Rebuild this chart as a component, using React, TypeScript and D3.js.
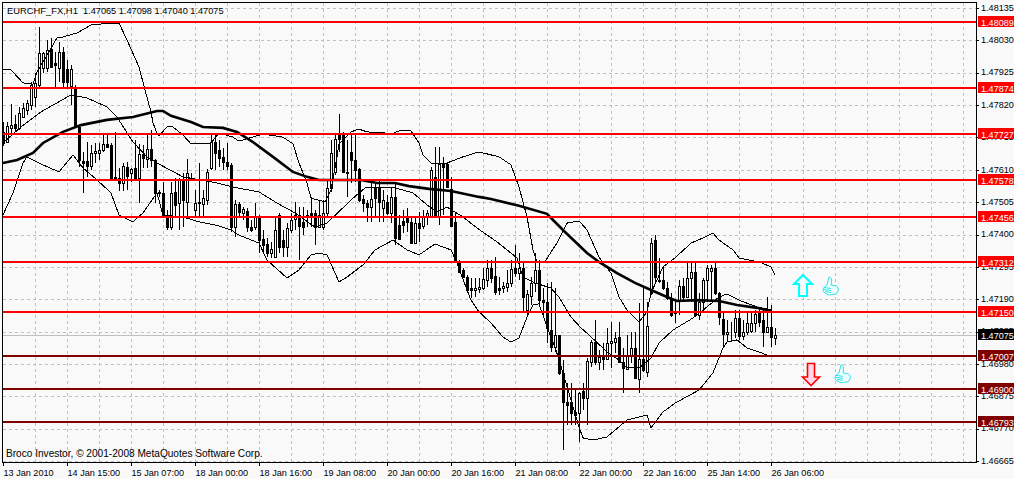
import { useEffect, useRef } from 'react'
import * as d3 from 'd3'

const WIDTH = 1014
const HEIGHT = 479

// hourly candles, prices in 1e-5 units
const highs = [
  147766,147766,147822,147788,147815,147826,147836,147896,147925,148074,
  147993,148031,148037,147993,148026,148010,147966,147950,147885,147755,
  147669,147701,147690,147696,147696,147723,147728,147696,147734,147615,
  147631,147634,147615,147707,147694,147690,147728,147739,147644,147544,
  147571,147480,147571,147582,147582,147599,147644,147601,147544,147631,
  147544,147613,147723,147728,147707,147680,147696,147631,147512,147507,
  147490,147485,147447,147501,147463,147415,147388,147377,147458,147469,
  147415,147436,147469,147507,147490,147490,147480,147523,147480,147512,
  147512,147577,147707,147728,147791,147734,147707,147723,147728,147615,
  147528,147512,147577,147571,147577,147544,147528,147555,147571,147463,
  147480,147485,147453,147458,147474,147480,147480,147620,147685,147685,
  147653,147631,147588,147469,147317,147290,147269,147258,147258,147258,
  147290,147317,147317,147328,147263,147247,147285,147317,147366,147339,
  147306,147220,147263,147339,147317,147225,147242,147247,147225,147074,
  146993,146917,146917,146895,146890,146917,146998,147058,147123,147025,
  147047,147096,147117,147085,147117,147031,147074,147085,147085,147177,
  147225,147182,147388,147398,147323,147296,147247,147209,147188,147252,
  147258,147306,147312,147312,147209,147258,147301,147301,147312,147215,
  147150,147123,147117,147155,147155,147123,147144,147144,147155,147160,
  147155,147198,147171,147098,
]
const lows = [
  147688,147696,147728,147737,147739,147777,147788,147804,147815,147878,
  147923,147928,147939,147880,147896,147878,147878,147820,147745,147620,
  147534,147588,147609,147631,147642,147669,147680,147577,147582,147542,
  147542,147544,147571,147577,147501,147615,147615,147620,147503,147523,
  147458,147415,147415,147458,147415,147425,147458,147577,147458,147458,
  147458,147496,147609,147609,147620,147609,147609,147409,147393,147452,
  147447,147409,147409,147415,147339,147339,147328,147323,147323,147339,
  147328,147328,147404,147415,147317,147398,147425,147425,147366,147420,
  147415,147452,147539,147593,147669,147599,147523,147566,147571,147507,
  147474,147442,147442,147458,147442,147442,147463,147436,147366,147382,
  147404,147409,147371,147371,147377,147417,147431,147452,147458,147431,
  147463,147550,147425,147317,147279,147258,147215,147193,147198,147209,
  147220,147231,147242,147204,147204,147209,147215,147231,147263,147252,
  147144,147139,147171,147215,147171,147139,147047,147020,147020,146944,
  146701,146782,146782,146782,146728,146831,146782,146971,146977,146960,
  146960,146993,146966,147014,146987,146885,146960,146982,146933,146885,
  146955,146939,147204,147242,147242,147220,147188,147133,147112,147139,
  147188,147193,147182,147133,147123,147150,147182,147182,147204,147106,
  147036,147052,147052,147063,147058,147058,147074,147079,147085,147101,
  147036,147079,147034,147040,
]
const opens = [
  147734,147701,147745,147758,147745,147782,147804,147820,147847,147885,
  147939,147939,148001,147958,147939,147993,147936,147882,147878,147750,
  147639,147639,147623,147663,147666,147674,147693,147690,147588,147582,
  147566,147620,147598,147615,147582,147661,147645,147676,147642,147539,
  147536,147458,147423,147537,147501,147577,147507,147589,147480,147507,
  147499,147512,147615,147701,147674,147653,147634,147626,147423,147499,
  147471,147477,147425,147425,147458,147384,147369,147339,147328,147463,
  147382,147361,147415,147449,147463,147442,147458,147469,147469,147425,
  147425,147469,147550,147604,147728,147728,147604,147669,147642,147611,
  147515,147503,147490,147550,147555,147485,147507,147471,147521,147431,
  147445,147456,147442,147374,147438,147428,147458,147460,147588,147460,
  147629,147629,147547,147442,147312,147285,147263,147225,147220,147222,
  147225,147252,147292,147265,147225,147225,147229,147242,147290,147274,
  147290,147155,147201,147242,147285,147188,147182,147090,147036,147074,
  146949,146858,146858,146825,146820,146893,146871,146987,147052,146985,
  147001,146995,147047,147052,147068,146987,146962,147006,147031,146931,
  146995,146955,147209,147382,147252,147252,147228,147195,147147,147184,
  147233,147198,147258,147279,147139,147182,147252,147282,147290,147209,
  147125,147076,147082,147083,147128,147072,147085,147087,147112,147147,
  147123,147085,147099,147065,
]
const closes = [
  147696,147752,147755,147745,147795,147809,147826,147885,147891,147988,
  147988,147999,147945,147950,147993,147896,147896,147936,147750,147642,
  147631,147623,147663,147672,147674,147693,147685,147582,147582,147566,
  147623,147590,147613,147582,147661,147647,147676,147642,147534,147534,
  147463,147425,147536,147496,147577,147512,147599,147591,147501,147501,
  147517,147604,147701,147663,147647,147636,147623,147425,147498,147474,
  147482,147425,147415,147458,147382,147366,147339,147353,147415,147361,
  147361,147420,147447,147463,147428,147425,147463,147463,147425,147463,
  147469,147550,147663,147709,147709,147604,147601,147642,147609,147512,
  147503,147488,147514,147517,147507,147512,147469,147523,147388,147384,
  147431,147442,147374,147438,147420,147458,147469,147609,147460,147629,
  147620,147555,147428,147317,147279,147263,147220,147220,147225,147231,
  147256,147290,147258,147215,147220,147233,147242,147288,147274,147290,
  147196,147207,147242,147285,147188,147182,147096,147036,147074,146949,
  146858,146847,146822,146814,146887,146868,146990,147052,146987,147004,
  146995,147049,147054,147063,146987,146966,147009,147031,146933,146995,
  146960,147103,147371,147263,147249,147225,147193,147139,147144,147233,
  147198,147258,147279,147139,147182,147252,147292,147292,147209,147133,
  147076,147083,147085,147128,147072,147085,147112,147112,147141,147117,
  147085,147099,147066,147075,
]

// indicator lines: [bar, price]
const upperBand: [number, number][] = [
  [0,147937],[2,147934],[5,147892],[7.5,147888],[8.5,147927],[13.5,148038],[15,148041],[18.5,148054],[22,148080],
  [27,148086],[29,148086],[31,148031],[34,147944],[35.5,147869],[37,147798],[37.5,147762],[38.5,147729],[39,147720],
  [41,147749],[42.5,147749],[45,147723],[47,147694],[52,147697],[54,147729],[57.5,147716],[59,147703],[65,147726],
  [70,147716],[72.5,147694],[74,147632],[76,147567],[77,147518],[80.5,147506],[82,147544],[83.5,147652],[84,147694],
  [87,147733],[89,147742],[91,147733],[96,147729],[97,147726],[99,147736],[102,147736],[104,147697],[105,147658],
  [107,147632],[109,147632],[111,147632],[115,147652],[119,147668],[124,147652],[127,147626],[129,147554],[131,147457],
  [132.5,147350],[133.5,147311],[135.5,147311],[137,147343],[138.5,147372],[141,147437],[144,147444],[146,147415],
  [149,147327],[152,147275],[154,147197],[156,147155],[159,147116],[161,147149],[162,147210],[165,147295],[168,147324],
  [172,147372],[175,147389],[177.5,147405],[179,147382],[182.5,147350],[184,147324],[189,147311],[192,147295],[193,147269],
]
const middleBand: [number, number][] = [
  [0,147697],[4.5,147749],[9.5,147798],[17,147853],[21,147843],[26,147814],[28.5,147781],[32.5,147700],[36,147652],
  [38.5,147632],[45,147587],[52.5,147570],[57.5,147554],[64,147538],[68.5,147502],[73,147470],[78,147424],[81,147437],
  [87.5,147518],[90.5,147551],[97,147554],[100,147544],[102.5,147535],[106,147496],[108.5,147473],[111,147489],
  [115,147457],[118.5,147421],[123.5,147376],[128.5,147324],[130,147262],[133,147243],[137,147226],[139,147197],
  [142,147132],[144.5,147097],[146.5,147074],[151,147019],[154,146993],[156,146967],[159,146967],[162,146999],
  [164,147048],[167.5,147090],[172.5,147129],[176,147165],[179,147197],[181,147207],[184,147187],[188.5,147165],
  [192,147155],[192.5,147145],
]
const lowerBand: [number, number][] = [
  [0,147463],[2.5,147535],[5,147632],[6,147652],[10,147626],[14,147603],[17.5,147658],[20,147616],[23.5,147577],
  [27,147535],[29,147463],[32.5,147441],[35,147470],[38.5,147535],[40,147463],[45,147457],[49,147441],[54,147428],
  [57,147415],[59,147398],[64,147372],[66,147317],[71,147259],[74,147285],[77,147334],[79,147340],[81,147334],
  [84,147246],[86,147262],[90,147301],[93,147350],[97.5,147382],[101,147350],[104,147334],[108,147369],[112,147350],
  [113.5,147308],[116,147220],[117,147187],[119,147149],[122,147113],[125,147067],[127,147051],[129,147064],
  [131,147132],[132.5,147171],[134,147175],[136,147100],[138,147035],[140,146951],[142,146863],[144,146775],
  [145,146740],[147.5,146733],[151,146743],[156,146798],[161,146814],[162,146772],[165,146824],[168,146853],
  [174,146895],[177.5,146951],[180,147032],[181,147051],[183.5,147058],[186,147032],[189,147019],[192,147003],[193,147003],
]
const slowAverage: [number, number][] = [
  [0,147632],[3.5,147642],[7.5,147665],[10,147697],[15,147733],[19.5,147755],[26,147772],[32.5,147781],[38.5,147801],
  [40,147801],[42,147785],[47,147765],[50,147749],[55,147746],[58.5,147733],[62.5,147700],[67.5,147652],[72.5,147603],
  [76,147587],[79,147577],[86,147577],[89.5,147577],[93.5,147567],[98,147567],[101.5,147557],[106.5,147548],[112,147541],
  [119,147522],[122,147515],[129,147493],[136,147467],[137.5,147447],[140.5,147408],[146,147340],[149,147311],
  [153.5,147275],[158,147243],[162,147220],[166,147197],[168.5,147184],[173.5,147187],[179,147184],[183.5,147171],
  [188.5,147162],[192,147152],
]

const priceTicks = [1.48135,1.4803,1.47925,1.4782,1.47715,1.4761,1.47505,1.474,1.47295,1.4719,1.47085,1.4698,1.46875,1.4677,1.46665]
const redLevels = [1.48089,1.47874,1.47727,1.47578,1.47456,1.47312,1.4715]
const darkLevels = [1.47007,1.469,1.46793]
const currentPrice = 1.47075

const timeBars = [0,16,32,48,64,80,96,112,128,144,160,176,192]
const timeLabels = [
  '13 Jan 2010','14 Jan 15:00','15 Jan 07:00','18 Jan 00:00','18 Jan 16:00','19 Jan 08:00','20 Jan 00:00',
  '20 Jan 16:00','21 Jan 08:00','22 Jan 00:00','22 Jan 16:00','25 Jan 14:00','26 Jan 06:00',
]

const FONT = '"Liberation Sans"'
const THUMB = 'M6 0C8 0 9 2 8.5 5L8 8L13 9C15 10 16 12 15 14L13 17L6 18L2 16L0 14C0 11 2 9 4 8Z'
const FINGERS = 'M1 10.5L8 11.5M1 12.5L8 13.5M2 14.5L8 15.5'

export default function App() {
  const ref = useRef<SVGSVGElement>(null)

  useEffect(() => {
    if (!ref.current) return
    const svg = d3.select(ref.current)
    svg.selectAll('*').remove()

    const x = d3.scaleLinear().domain([0, 243.25]).range([3, 976])
    const y = d3.scaleLinear().domain([1.46665, 1.48135]).range([461, 8])
    const py = (p: number) => y(p / 1e5)

    svg.append('rect').attr('width', WIDTH).attr('height', HEIGHT).attr('fill', '#f9f9f9')

    // Grid
    const grid = svg.append('g').attr('shape-rendering', 'crispEdges')
      .attr('stroke', '#c0c0c0').attr('stroke-dasharray', '3,3')
    d3.range(8, 241, 8).forEach(b => {
      grid.append('line').attr('x1', x(b) + 0.5).attr('x2', x(b) + 0.5).attr('y1', 3).attr('y2', 462)
    })
    priceTicks.forEach(p => {
      grid.append('line').attr('x1', 3).attr('x2', 976).attr('y1', Math.round(y(p)) + 0.5).attr('y2', Math.round(y(p)) + 0.5)
    })

    // Bid line
    svg.append('line').attr('x1', 3).attr('x2', 976)
      .attr('y1', Math.round(y(currentPrice)) + 0.5).attr('y2', Math.round(y(currentPrice)) + 0.5)
      .attr('stroke', '#c0c0c0').attr('shape-rendering', 'crispEdges')

    // Candles
    const candles = svg.append('g').attr('shape-rendering', 'crispEdges')
    opens.forEach((o, i) => {
      const c = closes[i]
      const cx = Math.round(x(i))
      candles.append('rect').attr('x', cx).attr('width', 1)
        .attr('y', Math.round(py(highs[i])))
        .attr('height', Math.max(1, Math.round(py(lows[i])) - Math.round(py(highs[i]))))
        .attr('fill', '#000')
      const top = Math.round(py(Math.max(o, c)))
      const bottom = Math.round(py(Math.min(o, c)))
      if (c >= o) {
        candles.append('rect').attr('x', cx - 0.5).attr('y', top + 0.5)
          .attr('width', 2).attr('height', Math.max(0, bottom - top))
          .attr('fill', '#fff').attr('stroke', '#000')
      } else {
        candles.append('rect').attr('x', cx - 1).attr('y', top)
          .attr('width', 3).attr('height', Math.max(1, bottom - top + 1))
          .attr('fill', '#000')
      }
    })

    // Indicators
    const line = d3.line<[number, number]>().x(d => x(d[0])).y(d => py(d[1]))
    ;[upperBand, middleBand, lowerBand].forEach(s => {
      svg.append('path').datum(s).attr('d', line).attr('fill', 'none').attr('stroke', '#000')
        .attr('stroke-width', 1).attr('shape-rendering', 'crispEdges')
    })
    svg.append('path').datum(slowAverage).attr('d', line).attr('fill', 'none').attr('stroke', '#000').attr('stroke-width', 2.6)

    // Axes
    const bottomAxis = svg.append('g').attr('transform', 'translate(0,462)')
      .call(d3.axisBottom(x).tickValues(timeBars).tickSize(4).tickFormat((_, i) => timeLabels[i]))
    bottomAxis.select('.domain').remove()
    bottomAxis.selectAll('text').attr('text-anchor', 'start').attr('y', 14).attr('dy', 0)

    const rightAxis = svg.append('g').attr('transform', 'translate(976,0)')
      .call(d3.axisRight(y).tickValues(priceTicks).tickSize(3).tickPadding(2).tickFormat(d => d3.format('.5f')(d as number)))
    rightAxis.select('.domain').remove()
    rightAxis.selectAll('text').attr('dy', '0.25em')

    svg.selectAll('.tick line').attr('stroke', '#000').attr('shape-rendering', 'crispEdges')
    svg.selectAll('.tick text').attr('fill', '#000').attr('font-size', '9.1px').attr('font-family', FONT)

    // Frame
    svg.append('rect').attr('x', 2.5).attr('y', 2.5).attr('width', 974).attr('height', 460)
      .attr('fill', 'none').attr('stroke', '#000').attr('shape-rendering', 'crispEdges')

    // Horizontal levels with price tags
    const drawTag = (p: number, color: string) => {
      const ly = Math.round(y(p))
      svg.append('rect').attr('x', 978).attr('y', ly - 6).attr('width', 36).attr('height', 11)
        .attr('fill', color).attr('shape-rendering', 'crispEdges')
      svg.append('text').attr('x', 981).attr('y', ly + 3.5)
        .attr('font-size', '9.1px').attr('font-family', FONT).attr('fill', '#fff')
        .text(d3.format('.5f')(p))
    }
    const drawLevel = (p: number, color: string) => {
      const ly = Math.round(y(p))
      svg.append('rect').attr('x', 3).attr('y', ly - 1).attr('width', 973).attr('height', 2)
        .attr('fill', color).attr('shape-rendering', 'crispEdges')
      drawTag(p, color)
    }
    redLevels.forEach(p => drawLevel(p, '#ff0000'))
    darkLevels.forEach(p => drawLevel(p, '#800000'))
    drawTag(currentPrice, '#000000')

    // Up / down arrows and the two thumbs
    const up = svg.append('g').attr('transform', `translate(${x(200)},${y(1.47236)})`)
    up.append('path').attr('d', 'M0 -10L9 -1L4 -1L4 11L-4 11L-4 -1L-9 -1Z')
      .attr('fill', '#f4ffff').attr('stroke', '#00ffff').attr('stroke-width', 2)
    const down = svg.append('g').attr('transform', `translate(${x(202)},${y(1.46944)})`)
    down.append('path').attr('d', 'M0 10.5L-8.5 2L-3.5 2L-3.5 -11.5L3.5 -11.5L3.5 2L8.5 2Z')
      .attr('fill', '#ffd8e8').attr('stroke', '#ff0000').attr('stroke-width', 1.6)
    ;[[205, 1.47262], [208, 1.46977]].forEach(([b, p]) => {
      const t = svg.append('g').attr('transform', `translate(${x(b)},${y(p)})`)
        .attr('fill', 'none').attr('stroke', '#19dfe6').attr('stroke-width', 0.9)
      t.append('path').attr('d', THUMB).attr('fill', '#f0ffff')
      t.append('path').attr('d', FINGERS)
    })

    // Captions
    svg.append('text').attr('x', 7).attr('y', 14)
      .attr('font-size', '9.4px').attr('font-family', FONT).attr('fill', '#000')
      .text('EURCHF_FX,H1')
    svg.append('text').attr('x', 83).attr('y', 14)
      .attr('font-size', '9.2px').attr('font-family', FONT).attr('fill', '#000')
      .text('1.47065 1.47098 1.47040 1.47075')
    svg.append('text').attr('x', 6).attr('y', 457)
      .attr('font-size', '10.1px').attr('font-family', FONT).attr('fill', '#000')
      .text('Broco Investor, © 2001-2008 MetaQuotes Software Corp.')
  }, [])

  return <svg ref={ref} width={WIDTH} height={HEIGHT} style={{ position: 'absolute', left: 0, top: 0 }} />
}
